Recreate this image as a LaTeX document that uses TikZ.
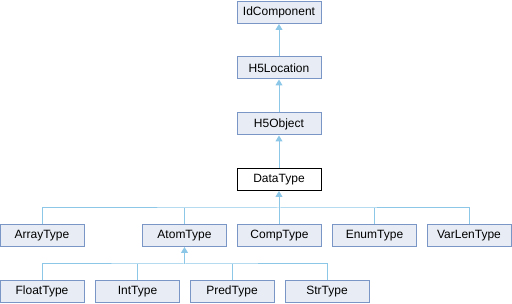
\documentclass[tikz,border=0pt]{standalone}
\usepackage{fontspec}
\setmainfont{Liberation Sans}
\usetikzlibrary{arrows.meta}

\definecolor{boxfill}{rgb}{0.91, 0.93, 0.96}
\definecolor{boxedge}{rgb}{0.48, 0.59, 0.78}
\definecolor{linkblue}{rgb}{0.55, 0.78, 0.91}

\tikzset{
    cls/.style={draw=boxedge, fill=boxfill, line width=1pt, minimum width=84pt,
        minimum height=22pt, inner sep=0pt, font=\fontsize{12}{12}\selectfont},
    curcls/.style={cls, draw=black, fill=white},
    inherit/.style={draw=linkblue, line width=1pt,
        {Triangle[width=7pt,length=6pt]}-},
    link/.style={draw=linkblue, line width=1pt}
}

\begin{document}
\begin{tikzpicture}[x=1pt, y=-1pt]
        
        \useasboundingbox (0,0) rectangle (512,304);
        
        % chain above DataType
        \node[cls] (idcomp) at (279,12.5) {IdComponent};
        \node[cls] (location) at (279,68) {H5Location};
        \node[cls] (object) at (279,124) {H5Object};
        \node[curcls] (datatype) at (279,179.5) {DataType};
        
        % direct subclasses
        \node[cls] (arraytype) at (42,235.5) {ArrayType};
        \node[cls] (atomtype) at (184.5,235.5) {AtomType};
        \node[cls] (comptype) at (279.5,235.5) {CompType};
        \node[cls] (enumtype) at (374.5,235.5) {EnumType};
        \node[cls] (varlentype) at (469,235.5) {VarLenType};
        
        % subclasses of AtomType
        \node[cls] (floattype) at (42,291.5) {FloatType};
        \node[cls] (inttype) at (137.5,291.5) {IntType};
        \node[cls] (predtype) at (232,291.5) {PredType};
        \node[cls] (strtype) at (327,291.5) {StrType};
        
        
        
        \draw[inherit] (idcomp) -- (location);
        \draw[inherit] (location) -- (object);
        \draw[inherit] (object) -- (datatype);
        
        \coordinate (bus1) at (279,208);
        \draw[inherit] (datatype.south) -- (bus1);
        \draw[link] (arraytype.north) |- (bus1) -| (varlentype.north);
        \foreach \n in {atomtype,comptype,enumtype}
            \draw[link] (\n.north) -- (\n.north |- bus1);
        
        \coordinate (bus2) at (184.5,264);
        \draw[inherit] (atomtype.south) -- (bus2);
        \draw[link] (floattype.north) |- (bus2) -| (strtype.north);
        \foreach \n in {inttype,predtype}
            \draw[link] (\n.north) -- (\n.north |- bus2);
        
    \end{tikzpicture}
\end{document}
